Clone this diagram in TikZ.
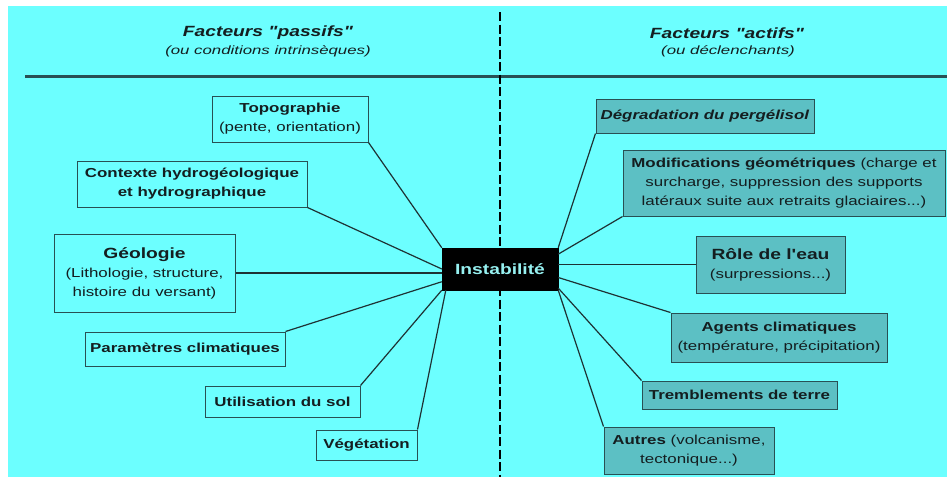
\documentclass[tikz,border=0pt]{standalone}
\usepackage{fontspec}
\newfontfamily\lsans{Liberation Sans}[FakeStretch=1.3]
\newfontfamily\lsub{Liberation Sans}[FakeStretch=1.4]
\usetikzlibrary{calc}
\definecolor{bgc}{RGB}{108,255,255}
\definecolor{boxc}{RGB}{92,192,196}
\definecolor{bordc}{RGB}{40,80,84}
\definecolor{linec}{RGB}{30,50,52}
\definecolor{txtc}{RGB}{20,30,32}
\definecolor{instc}{RGB}{150,240,240}
\newcommand\bodyf{\lsans\fontsize{13}{19}\selectfont}
\newcommand\bigf{\lsans\bfseries\fontsize{14.8}{19}\selectfont}
\tikzset{
  pbox/.style={draw=bordc, line width=1pt, fill=bgc, inner sep=0pt, align=center, text=txtc, font=\bodyf},
  abox/.style={pbox, fill=boxc},
  link/.style={draw=linec, line width=1.2pt},
}
\begin{document}
\begin{tikzpicture}[x=1pt,y=-1pt]
\useasboundingbox (0,0) rectangle (947,477);
\fill[bgc] (8,6) rectangle (947,477);
% headers
\node[text=txtc, font=\bigf\itshape] (hp) at (268,33) {Facteurs "passifs"};
\node[text=txtc, font=\lsub\itshape\fontsize{12}{14}\selectfont] (hps) at (268,51) {(ou conditions intrinsèques)};
\node[text=txtc, font=\bigf\itshape] (ha) at (727,33) {Facteurs "actifs"};
\node[text=txtc, font=\lsub\itshape\fontsize{12}{14}\selectfont] (has) at (728,51) {(ou déclenchants)};
\coordinate (hl1) at (25,76);
\coordinate (hl2) at (947,76);
\draw[line width=3pt, draw=bordc] (hl1) -- (hl2);
\coordinate (dv1) at (500,12);
\coordinate (dv2) at (500,477);
\draw[line width=2.6pt, black, dash pattern=on 9pt off 3.5pt] (dv1) -- (dv2);
% center
\node[draw=black, fill=black, inner sep=0pt, minimum width=116pt, minimum height=42pt, text=instc, font=\bigf] (inst) at (500,269) {Instabilité};
% passive boxes
\node[pbox, minimum width=156pt, minimum height=46pt] (topo) at (290,119) {\textbf{Topographie}\\(pente, orientation)};
\node[pbox, minimum width=230pt, minimum height=46pt] (ctx) at (192,184) {\textbf{Contexte hydrogéologique}\\\textbf{et hydrographique}};
\node[pbox, minimum width=181pt, minimum height=78pt] (geo) at (144.5,273) {{\bigf Géologie}\\(Lithologie, structure,\\histoire du versant)};
\node[pbox, minimum width=200pt, minimum height=34pt] (param) at (185,349) {\textbf{Paramètres climatiques}};
\node[pbox, minimum width=155pt, minimum height=31pt] (util) at (282.5,401.5) {\textbf{Utilisation du sol}};
\node[pbox, minimum width=101pt, minimum height=30pt] (veg) at (366.5,445) {\textbf{Végétation}};
% active boxes
\node[abox, minimum width=218pt, minimum height=34pt] (degr) at (705,116) {\textbf{\itshape Dégradation du pergélisol}};
\node[abox, minimum width=322pt, minimum height=66pt] (modif) at (784,183) {\textbf{Modifications géométriques} (charge et\\surcharge, suppression des supports\\latéraux suite aux retraits glaciaires...)};
\node[abox, minimum width=149pt, minimum height=57pt] (role) at (770.5,264.5) {{\bigf Rôle de l'eau}\\(surpressions...)};
\node[abox, minimum width=216pt, minimum height=49pt] (agents) at (779,337.5) {\textbf{Agents climatiques}\\(température, précipitation)};
\node[abox, minimum width=195pt, minimum height=28pt] (trembl) at (739.5,395) {\textbf{Tremblements de terre}};
\node[abox, minimum width=170pt, minimum height=47pt] (autres) at (689,450.5) {\textbf{Autres} (volcanisme,\\tectonique...)};
% connectors
\draw[link] (topo.south east) -- (inst.north west);
\draw[link] (ctx.south east) -- (inst.west);
\draw[link] (geo.east) -- (geo.east -| inst.west);
\draw[link] (param.north east) -- ($(inst.west)!0.6!(inst.south west)$);
\draw[link] (util.north east) -- (inst.south west);
\draw[link] (veg.north east) -- ($(inst.south west)+(4,0)$);
\draw[link] (degr.south west) -- (inst.north east);
\draw[link] (modif.south west) -- ($(inst.north east)!0.3!(inst.east)$);
\draw[link] (role.west -| inst.east) -- (role.west);
\draw[link] (agents.north west) -- ($(inst.east)!0.4!(inst.south east)$);
\draw[link] (trembl.north west) -- ($(inst.east)!0.9!(inst.south east)$);
\draw[link] (autres.north west) -- (inst.south east);
\end{tikzpicture}
\end{document}
